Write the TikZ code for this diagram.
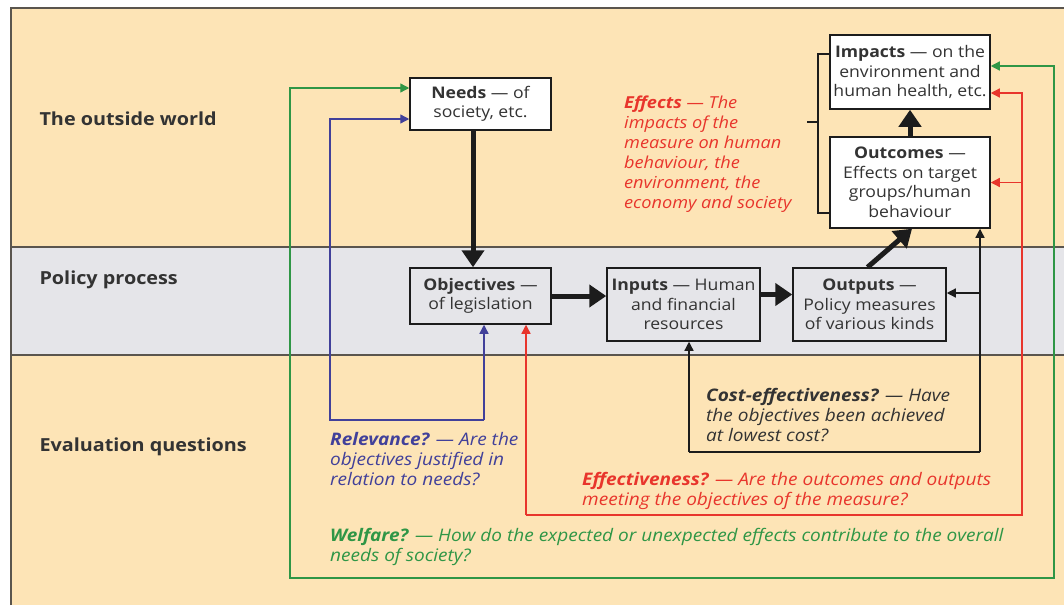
\documentclass[tikz,border=0pt]{standalone}
\usepackage{fontspec}
\setmainfont{Open Sans}[FakeStretch=1.1]
\usetikzlibrary{arrows.meta}
\definecolor{beige}{HTML}{FDE4B6}
\definecolor{band}{HTML}{E5E5E9}
\definecolor{ink}{HTML}{333333}
\definecolor{dark}{HTML}{1C1C1C}
\definecolor{fr}{HTML}{5A554E}
\definecolor{qred}{HTML}{E8352C}
\definecolor{qblue}{HTML}{41409A}
\definecolor{qgreen}{HTML}{2F9646}
\tikzset{
  box/.style={draw=dark, line width=1.5pt, fill=white, align=center, inner sep=0pt, text=ink, font=\fontsize{16}{19.5}\selectfont},
  pbox/.style={box, fill=band},
  bigarr/.style={draw=dark, line width=5pt, -{Triangle[length=17pt,width=22pt]}},
  thinarr/.style={line width=1.3pt, -{Triangle[length=9pt,width=9pt]}},
  rowlabel/.style={anchor=west, text=ink, font=\fontsize{18}{20}\selectfont\bfseries},
  qtext/.style={anchor=north west, align=left, inner sep=0pt, font=\fontsize{17.3}{20}\selectfont\itshape},
}
\begin{document}
\begin{tikzpicture}[x=1pt,y=-1pt]
\useasboundingbox (0,0) rectangle (1064,605);
\fill[white] (0,0) rectangle (1064,605);
\fill[beige] (11,8) rectangle (1064,605);
\fill[band] (11,247) rectangle (1064,355);
\draw[fr, line width=2pt] (11,605) -- (11,8) -- (1064,8);
\draw[fr, line width=2pt] (11,247) -- (1064,247) (11,355) -- (1064,355);

\node[rowlabel] (lworld) at (36,119) {The outside world};
\node[rowlabel] (lpolicy) at (36,280) {Policy process};
\node[rowlabel] (leval) at (36,447) {Evaluation questions};

\node[box, minimum width=141pt, minimum height=52pt] (needs) at (480.5,104) {\textbf{Needs} — of\\society, etc.};
\node[pbox, minimum width=141pt, minimum height=56pt] (obj) at (480.5,296) {\textbf{Objectives} —\\of legislation};
\node[pbox, minimum width=153pt, minimum height=73pt] (inputs) at (683.5,304.5) {\textbf{Inputs} — Human\\and financial\\resources};
\node[pbox, minimum width=153pt, minimum height=73pt] (outputs) at (869.5,304.5) {\textbf{Outputs} —\\Policy measures\\of various kinds};
\node[box, minimum width=160pt, minimum height=74pt] (impacts) at (910,72) {\textbf{Impacts} — on the\\environment and\\human health, etc.};
\node[box, minimum width=160pt, minimum height=91pt] (outcomes) at (910,182.5) {\textbf{Outcomes} —\\Effects on target\\groups/human\\behaviour};

% entry points
\coordinate (needsG) at ([yshift=16pt]needs.west);
\coordinate (needsB) at ([yshift=-15pt]needs.west);
\coordinate (impG) at ([yshift=6pt]impacts.east);
\coordinate (impR) at ([yshift=-21pt]impacts.east);
\coordinate (outpE) at ([yshift=11.5pt]outputs.east);
\coordinate (brT) at ([yshift=18pt]impacts.west);
\coordinate (brB) at ([yshift=-30.5pt]outcomes.west);

\draw[bigarr] ([xshift=-7.5pt]needs.south) -- ([xshift=-7.5pt]obj.north);
\draw[bigarr] (obj.east) -- ([yshift=8.5pt]inputs.west);
\draw[bigarr] ([yshift=10pt]inputs.east) -- ([yshift=10pt]outputs.west);
\draw[bigarr] ([xshift=-2pt]outputs.north) -- ([xshift=2pt]outcomes.south);
\draw[bigarr] (outcomes.north) -- (impacts.south);

% bracket
\coordinate (bx) at (818,0);
\draw[dark, line width=1.3pt] (brT) -- (bx |- brT) -- (bx |- brB) -- (brB);
\coordinate (bm) at (818,122);
\draw[dark, line width=1.3pt] (bm) -- ++(-11,0);

\node[qtext, text=qred, font=\fontsize{16.5}{20}\selectfont\itshape] (effects) at (624,96) {\textbf{Effects} — The\\impacts of the\\measure on human\\behaviour, the\\environment, the\\economy and society};

% cost-effectiveness (black)
\coordinate (cb1) at (689,452);
\coordinate (cb2) at (980,452);
\draw[dark, thinarr] (cb1) -- (cb1 |- inputs.south);
\draw[dark, line width=1.3pt] (cb1) -- (cb2);
\draw[dark, thinarr] (cb2) -- (cb2 |- outcomes.south);
\draw[dark, thinarr] (cb2 |- outpE) -- (outpE);
\node[qtext, text=ink] (costq) at (706,388) {\textbf{Cost-effectiveness?} — Have\\the objectives been achieved\\at lowest cost?};

% relevance (blue)
\coordinate (bl1) at (484,420);
\coordinate (bl2) at (330,420);
\draw[qblue, thinarr] (bl1) -- (bl1 |- obj.south);
\draw[qblue, thinarr] (bl1) -- (bl2) -- (bl2 |- needsB) -- (needsB);
\node[qtext, text=qblue] (relq) at (330,432) {\textbf{Relevance?} — Are the\\objectives justified in\\relation to needs?};

% effectiveness (red)
\coordinate (r1) at (526,515);
\coordinate (r2) at (1022,515);
\draw[qred, thinarr] (r1) -- (r1 |- obj.south);
\draw[qred, thinarr] (r1) -- (r2) -- (r2 |- impR) -- (impR);
\draw[qred, thinarr] (r2 |- outcomes.east) -- (outcomes.east);
\node[qtext, text=qred] (effq) at (582,472) {\textbf{Effectiveness?} — Are the outcomes and outputs\\meeting the objectives of the measure?};

% welfare (green)
\coordinate (g1) at (290,578);
\coordinate (g2) at (1054,578);
\draw[qgreen, thinarr] (g2) -- (g1) -- (g1 |- needsG) -- (needsG);
\draw[qgreen, thinarr] (g1) -- (g2) -- (g2 |- impG) -- (impG);
\node[qtext, text=qgreen] (welq) at (330,528) {\textbf{Welfare?} — How do the expected or unexpected effects contribute to the overall\\needs of society?};
\end{tikzpicture}
\end{document}
